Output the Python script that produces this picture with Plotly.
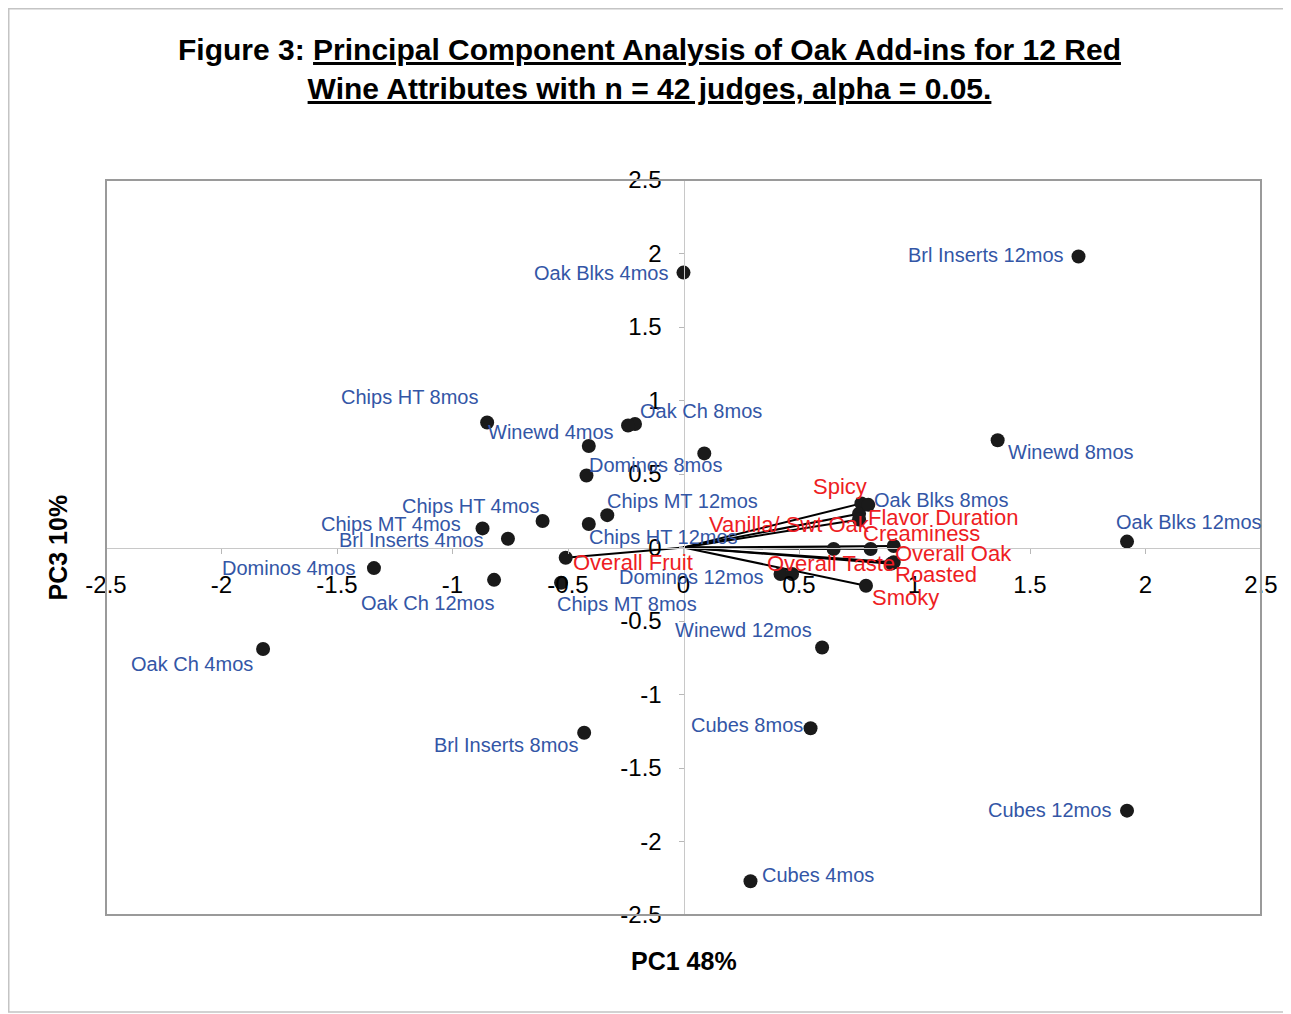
import plotly.graph_objects as go

# ---------------- data ----------------
obs_names = ["Oak Blks 4mos", "Brl Inserts 12mos", "Chips HT 8mos", "Oak Ch 8mos", "Winewd 4mos",
             "Winewd 8mos", "Dominos 8mos", "Chips MT 12mos", "Oak Blks 8mos", "Chips HT 4mos",
             "Oak Blks 12mos", "Chips MT 4mos", "Chips HT 12mos", "Brl Inserts 4mos", "Dominos 4mos",
             "Dominos 12mos", "Oak Ch 12mos", "Chips MT 8mos", "Winewd 12mos", "Oak Ch 4mos",
             "Cubes 8mos", "Brl Inserts 8mos", "Cubes 12mos", "Cubes 4mos", "", "", ""]
obs_pc1 = [0.00, 1.71, -0.85, -0.21, -0.24, 1.36, -0.42, -0.33, 0.80, -0.61,
           1.92, -0.87, -0.41, -0.76, -1.34, 0.42, -0.82, -0.53, 0.60, -1.82,
           0.55, -0.43, 1.92, 0.29, -0.41, 0.09, 0.47]
obs_pc3 = [1.87, 1.98, 0.85, 0.84, 0.83, 0.73, 0.49, 0.22, 0.29, 0.18,
           0.04, 0.13, 0.16, 0.06, -0.14, -0.18, -0.22, -0.24, -0.68, -0.69,
           -1.23, -1.26, -1.79, -2.27, 0.69, 0.64, -0.18]

attr_names = ["Spicy", "Flavor Duration", "Vanilla/ Swt Oak", "", "Creaminess", "Overall Oak",
              "Overall Taste", "Roasted", "Smoky", "Overall Fruit"]
attr_pc1 = [0.77, 0.76, 0.76, 0.65, 0.81, 0.91, 0.90, 0.91, 0.79, -0.51]
attr_pc3 = [0.30, 0.23, 0.19, -0.01, -0.01, 0.01, -0.11, -0.10, -0.26, -0.07]

tick_vals = [-2.5, -2, -1.5, -1, -0.5, 0, 0.5, 1, 1.5, 2, 2.5]
tick_text = ["-2.5", "-2", "-1.5", "-1", "-0.5", "0", "0.5", "1", "1.5", "2", "2.5"]

# ---------------- label offsets (pixels: dx right, dy up) ----------------
obs_offsets = [(-151, 0), (-172, 1), (-147, 26), (4, 13), (-141, -7),
               (9, -12), (2, 10), (-1, 14), (5, 5), (-142, 15),
               (-12, 20), (-163, 4), (-1, -13), (-170, -1), (-153, 0),
               (-163, -3), (-134, -23), (-5, -21), (-148, 17), (-133, -15),
               (-121, 3), (-151, -12), (-140, 1), (11, 6), (0, 0), (0, 0), (0, 0)]
attr_offsets = [(-49, 17), (8, -4), (-151, -5), (0, 0), (-9, 15), (0, -7),
                (-125, 0), (0, -12), (5, -12), (6, -5)]

FONT = "Liberation Sans, Arial, sans-serif"
BLUE = "#3356A6"
RED = "#EE1D23"

W, H = 1283, 1006
L, R, T, B = 98, 30, 172, 99
pw, ph = W - L - R, H - T - B
base = T + ph

fig = go.Figure()

# attribute vectors
vx, vy = [], []
for ax_, ay_ in zip(attr_pc1, attr_pc3):
    vx += [0, ax_, None]
    vy += [0, ay_, None]
fig.add_trace(go.Scatter(x=vx, y=vy, mode="lines", line=dict(color="black", width=2),
                         hoverinfo="skip"))
fig.add_trace(go.Scatter(x=attr_pc1, y=attr_pc3, mode="markers",
                         marker=dict(color="#1a1a1a", size=14), hoverinfo="skip"))
fig.add_trace(go.Scatter(x=obs_pc1, y=obs_pc3, mode="markers",
                         marker=dict(color="#1a1a1a", size=14), hoverinfo="skip"))

annotations = []
for name, x, y, (dx, dy) in zip(obs_names, obs_pc1, obs_pc3, obs_offsets):
    if name:
        annotations.append(dict(x=x, y=y, xref="x", yref="y", text=name, showarrow=False,
                                xanchor="left", yanchor="middle", xshift=dx, yshift=dy,
                                font=dict(family=FONT, size=20, color=BLUE), borderpad=0))
for name, x, y, (dx, dy) in zip(attr_names, attr_pc1, attr_pc3, attr_offsets):
    if name:
        annotations.append(dict(x=x, y=y, xref="x", yref="y", text=name, showarrow=False,
                                xanchor="left", yanchor="middle", xshift=dx, yshift=dy,
                                font=dict(family=FONT, size=22, color=RED), borderpad=0))

# axis titles
annotations.append(dict(x=0.5, y=(base - 953) / ph, xref="paper", yref="paper",
                        text="<b>PC1 48%</b>", showarrow=False, xanchor="center", yanchor="middle",
                        font=dict(family=FONT, size=25, color="black")))
annotations.append(dict(x=(49 - L) / pw, y=0.5, xref="paper", yref="paper",
                        text="<b>PC3 10%</b>", showarrow=False, xanchor="center", yanchor="middle",
                        textangle=-90, font=dict(family=FONT, size=25, color="black")))

axis_common = dict(range=[-2.5, 2.5], tickvals=tick_vals, ticktext=tick_text,
                   showgrid=False, zeroline=False, showline=True, linecolor="#c8c8c8",
                   linewidth=1, ticks="outside", ticklen=5, tickcolor="#b8b8b8",
                   tickfont=dict(family=FONT, size=24, color="black"),
                   anchor="free", position=0.5, fixedrange=True)

fig.update_layout(
    width=W, height=H,
    margin=dict(l=L, r=R, t=T, b=B, pad=0),
    paper_bgcolor="white", plot_bgcolor="white",
    showlegend=False,
    title=dict(text="Figure 3: <u>Principal Component Analysis of Oak Add-ins for 12 Red</u><br>"
                    "<u>Wine Attributes with n = 42 judges, alpha = 0.05.</u>",
               x=0.5, xanchor="center", xref="container", yref="container", y=1 - 52 / H,
               yanchor="middle", font=dict(family=FONT, size=30, color="black", weight="bold")),
    xaxis=dict(**axis_common, ticklabelstandoff=11),
    yaxis=dict(**axis_common, ticklabelstandoff=12),
    annotations=annotations,
    shapes=[
        dict(type="rect", xref="paper", yref="paper", x0=0, x1=1, y0=0, y1=1,
             line=dict(color="#9a9a9a", width=2), layer="above"),
        dict(type="rect", xref="paper", yref="paper",
             x0=(0.75 - L) / pw, x1=(1278 - L) / pw, y0=(base - 1004) / ph, y1=(base - 0.75) / ph,
             line=dict(color="#c4c4c4", width=1.5), layer="below"),
    ],
)

fig.write_html("out.html")
